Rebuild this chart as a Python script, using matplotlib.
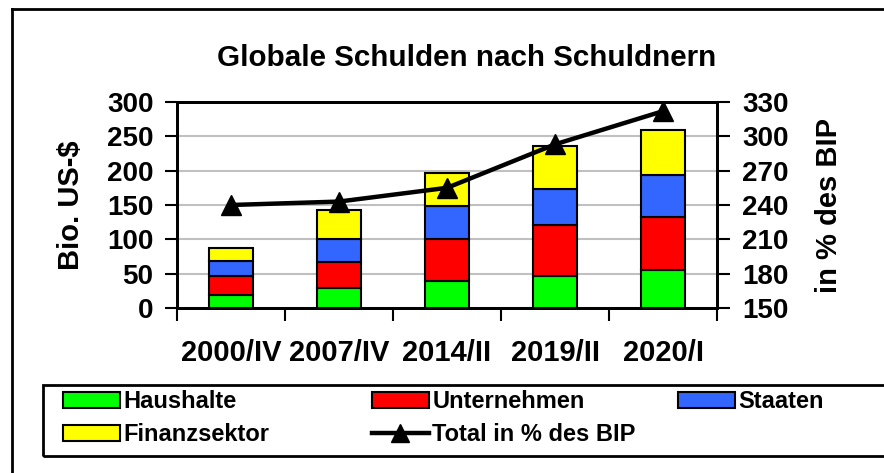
import matplotlib.pyplot as plt
from matplotlib.lines import Line2D
from matplotlib.patches import Patch, Rectangle

# data
perioden = ['2000/IV', '2007/IV', '2014/II', '2019/II', '2020/I']
haushalte = [19, 29, 39, 46, 55]
unternehmen = [28, 38, 61, 75, 77]
staaten = [21, 34, 48, 53, 62]
finanzsektor = [20, 42, 49, 62, 65]
total_bip = [240, 243, 255, 293, 322]

farben = {'Haushalte': '#00ff00', 'Unternehmen': '#ff0000',
          'Staaten': '#3366ff', 'Finanzsektor': '#ffff00'}

plt.rcParams['font.family'] = ['Liberation Sans', 'DejaVu Sans']
plt.rcParams['font.weight'] = 'bold'

W, H = 884, 473
fig = plt.figure(figsize=(W / 100, H / 100), dpi=100)
ax = fig.add_axes([177 / W, 1 - 308 / H, (717 - 177) / W, (308 - 102) / H])

x = list(range(len(perioden)))
unten = [0] * len(perioden)
for name, werte in [('Haushalte', haushalte), ('Unternehmen', unternehmen),
                    ('Staaten', staaten), ('Finanzsektor', finanzsektor)]:
    ax.bar(x, werte, 0.41, bottom=unten, color=farben[name],
           edgecolor='black', linewidth=1.5, zorder=3)
    unten = [u + w for u, w in zip(unten, werte)]

ax.set_xlim(-0.5, len(perioden) - 0.5)
ax.set_ylim(0, 300)
ax.set_yticks(range(0, 301, 50))
ax.set_xticks(x)
ax.set_xticklabels(perioden)
ax.set_xticks([i - 0.5 for i in range(len(perioden) + 1)], minor=True)
ax.tick_params(axis='x', which='major', length=0, pad=22, labelsize=21)
ax.tick_params(axis='x', which='minor', length=9, width=1.5, direction='out')
ax.tick_params(axis='y', length=9, width=1.5, pad=8, labelsize=20)
ax.grid(axis='y', color='#c0c0c0', linewidth=1.5, zorder=0)
for s in ax.spines.values():
    s.set_linewidth(2)
ax.set_ylabel('Bio. US-$', fontsize=21, fontweight='bold', labelpad=16)

ax2 = ax.twinx()
ax2.plot(x, total_bip, color='black', linewidth=3.2, marker='^',
         markersize=15, zorder=5)
ax2.set_ylim(150, 330)
ax2.set_yticks(range(150, 331, 30))
ax2.tick_params(axis='y', length=9, width=1.5, pad=9, labelsize=20)
for s in ax2.spines.values():
    s.set_linewidth(2)
ax2.set_ylabel('in % des BIP', fontsize=21, fontweight='bold', labelpad=19)

fig.text(467 / W, 1 - 58 / H, 'Globale Schulden nach Schuldnern',
         ha='center', va='center', fontsize=21.3, fontweight='bold')

# outer frame (cut at right and bottom)
fig.add_artist(Line2D([12 / W, 12 / W], [0, 1 - 9 / H], color='black',
                      linewidth=2, transform=fig.transFigure))
fig.add_artist(Line2D([12 / W, 1], [1 - 9 / H, 1 - 9 / H], color='black',
                      linewidth=2, transform=fig.transFigure))

# legend frame
fig.add_artist(Rectangle((43 / W, 1 - 456 / H), (W + 10 - 43) / W, (456 - 385) / H,
                         transform=fig.transFigure, facecolor='none',
                         edgecolor='black', linewidth=2))


def patch(name):
    return Patch(facecolor=farben[name], edgecolor='black', linewidth=1.5, label=name)


total_handle = Line2D([], [], color='black', linewidth=3.2, marker='^',
                      markersize=13, label='Total in % des BIP')
spalten = [
    (63, [patch('Haushalte'), patch('Finanzsektor')]),
    (372, [patch('Unternehmen'), total_handle]),
    (678, [patch('Staaten')]),
]
for xpos, handles in spalten:
    fig.legend(handles=handles, loc='upper left',
               bbox_to_anchor=(xpos / W, 1 - 390 / H), frameon=False,
               borderpad=0, borderaxespad=0, handlelength=2.4,
               handleheight=0.68, handletextpad=0.15, labelspacing=0.42,
               prop={'size': 17, 'weight': 'bold'}, numpoints=1)

fig.savefig('out.png', dpi=100)
